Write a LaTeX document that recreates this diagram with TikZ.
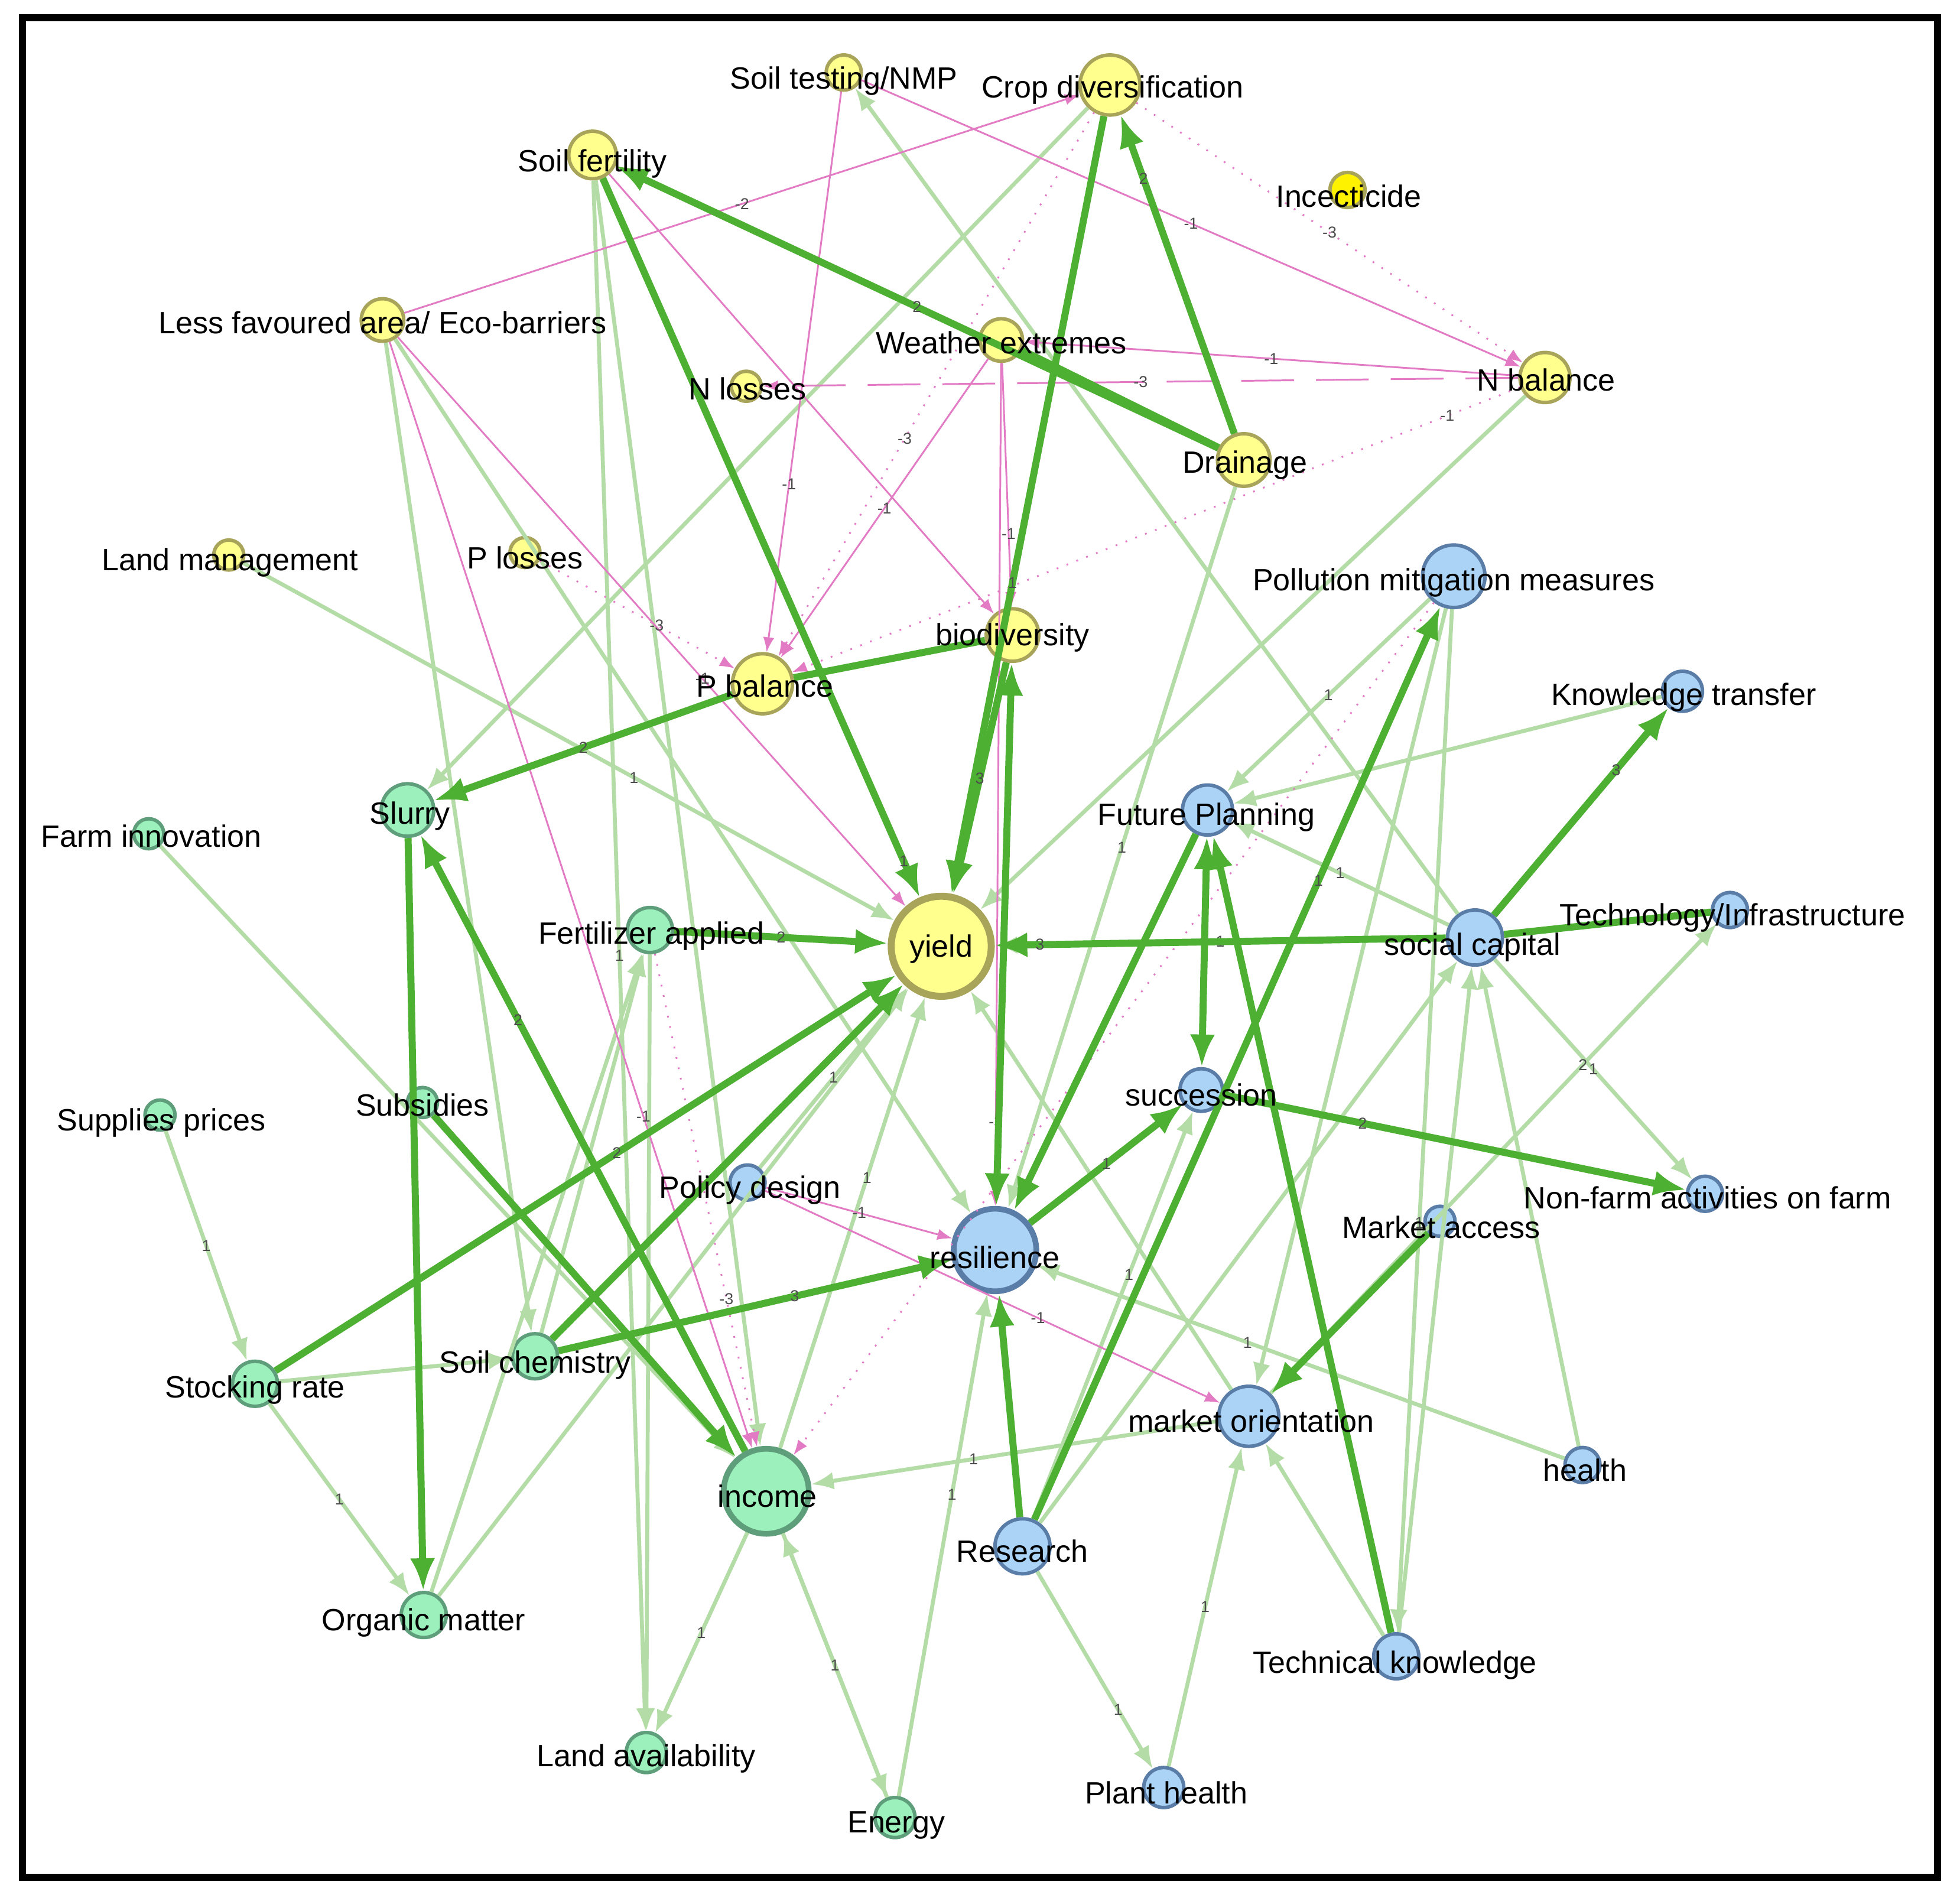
\documentclass[tikz,border=0pt]{standalone}
\usepackage{fontspec}
\setmainfont{Liberation Sans}
\usetikzlibrary{arrows.meta}
\definecolor{sg}{HTML}{4DB032}
\definecolor{lg}{HTML}{B4DCA6}
\definecolor{pk}{HTML}{E27BC4}
\definecolor{yf}{HTML}{FFFF8E}
\definecolor{yb}{HTML}{A8A45A}
\definecolor{gf}{HTML}{9CF0BC}
\definecolor{gb}{HTML}{5E9E7A}
\definecolor{bf}{HTML}{ABD3F6}
\definecolor{bb}{HTML}{5A7DA8}
\begin{document}
\begin{tikzpicture}[x=0.01cm,y=-0.01cm,
 yel/.style={circle,draw=yb,fill=yf,line width=0.8pt,inner sep=0pt},
 grn/.style={circle,draw=gb,fill=gf,line width=0.8pt,inner sep=0pt},
 blu/.style={circle,draw=bb,fill=bf,line width=0.8pt,inner sep=0pt},
 txt/.style={font=\fontsize{7}{8}\selectfont,inner sep=0pt},
 lab/.style={font=\fontsize{3.6}{4}\selectfont,text=black!70,inner sep=0.5pt,sloped=false},
 S/.style={draw=sg,line width=1.6pt,-{Latex[length=2.6mm,width=2mm]}},
 L/.style={draw=lg,line width=0.9pt,-{Latex[length=1.8mm,width=1.4mm]}},
 P/.style={draw=pk,line width=0.4pt,-{Latex[length=1.2mm,width=0.9mm]}},
 PD/.style={P,dotted},
 PL/.style={P,dash pattern=on 12pt off 5pt}]
\useasboundingbox (0,0) rectangle (1568,1518);
\draw[line width=1.6pt] (18,14) rectangle (1550,1502);
% nodes
\node[yel,minimum size=.28cm] (soiltest) at (675,58) {};
\node[yel,minimum size=.48cm] (cropdiv) at (888,68) {};
\node[yel,minimum size=.28cm,fill=yellow] (incect) at (1078,152) {};
\node[yel,minimum size=.38cm] (soilfert) at (474,124) {};
\node[yel,minimum size=.34cm] (lessfav) at (306,256) {};
\node[yel,minimum size=.34cm] (weather) at (801,272) {};
\node[yel,minimum size=.24cm] (nlosses) at (597,309) {};
\node[yel,minimum size=.40cm] (nbalance) at (1236,302) {};
\node[yel,minimum size=.42cm] (drainage) at (995,368) {};
\node[yel,minimum size=.24cm] (landmgmt) at (183,444) {};
\node[yel,minimum size=.24cm] (plosses) at (420,442) {};
\node[yel,minimum size=.48cm] (pbalance) at (610,547) {};
\node[yel,minimum size=.42cm] (biodiv) at (810,508) {};
\node[yel,minimum size=.80cm,line width=1.6pt] (yield) at (753,757) {};
\node[grn,minimum size=.42cm] (slurry) at (326,648) {};
\node[grn,minimum size=.24cm] (farminnov) at (119,667) {};
\node[grn,minimum size=.36cm] (fert) at (520,744) {};
\node[grn,minimum size=.24cm] (supplies) at (128,892) {};
\node[grn,minimum size=.24cm] (subsidies) at (338,882) {};
\node[grn,minimum size=.36cm] (soilchem) at (428,1085) {};
\node[grn,minimum size=.36cm] (stocking) at (204,1107) {};
\node[grn,minimum size=.68cm,line width=1.3pt] (income) at (613,1193) {};
\node[grn,minimum size=.36cm] (orgmatter) at (339,1292) {};
\node[grn,minimum size=.32cm] (landavail) at (517,1402) {};
\node[grn,minimum size=.32cm] (energy) at (716,1454) {};
\node[blu,minimum size=.50cm] (pollution) at (1163,461) {};
\node[blu,minimum size=.32cm] (knowledge) at (1346,553) {};
\node[blu,minimum size=.40cm] (futureplan) at (966,648) {};
\node[blu,minimum size=.28cm] (techinfra) at (1384,728) {};
\node[blu,minimum size=.44cm] (social) at (1180,750) {};
\node[blu,minimum size=.34cm] (succession) at (961,872) {};
\node[blu,minimum size=.28cm] (nonfarm) at (1364,955) {};
\node[blu,minimum size=.24cm] (marketacc) at (1152,977) {};
\node[blu,minimum size=.28cm] (policy) at (598,946) {};
\node[blu,minimum size=.66cm,line width=1.3pt] (resilience) at (796,1000) {};
\node[blu,minimum size=.48cm] (marketor) at (999,1133) {};
\node[blu,minimum size=.28cm] (health) at (1266,1172) {};
\node[blu,minimum size=.44cm] (research) at (818,1237) {};
\node[blu,minimum size=.36cm] (techknow) at (1117,1325) {};
\node[blu,minimum size=.32cm] (planthealth) at (931,1430) {};
% light green edges
\draw[L] (lessfav) -- (resilience);
\draw[L] (lessfav) -- (soilchem);
\draw[L] (soilfert) -- (income);
\draw[L] (soilfert) -- node[lab]{1} (landavail);
\draw[L] (cropdiv) -- (slurry);
\draw[L] (landmgmt) -- node[lab,pos=.6]{1} (yield);
\draw[L] (farminnov) -- (income);
\draw[L] (supplies) -- node[lab]{1} (stocking);
\draw[L] (stocking) -- node[lab]{1} (orgmatter);
\draw[L] (stocking) -- (soilchem);
\draw[L] (orgmatter) -- (fert);
\draw[L] (orgmatter) -- (yield);
\draw[L] (fert) -- (landavail);
\draw[L] (income) -- node[lab]{1} (landavail);
\draw[L] (income) -- (energy);
\draw[L] (energy) -- node[lab]{1} (income);
\draw[L] (income) -- node[lab,pos=.6]{1} (yield);
\draw[L] (energy) -- node[lab,pos=.6]{1} (resilience);
\draw[L] (marketor) -- node[lab,pos=.6]{1} (income);
\draw[L] (planthealth) -- node[lab]{1} (marketor);
\draw[L] (research) -- node[lab,pos=.7]{1} (planthealth);
\draw[L] (marketor) -- (yield);
\draw[L] (health) -- node[lab,pos=.6]{1} (resilience);
\draw[L] (pollution) -- node[lab]{1} (futureplan);
\draw[L] (pollution) -- node[lab,pos=.6]{1} (techknow);
\draw[L] (pollution) -- (marketor);
\draw[L] (social) -- node[lab]{1} (futureplan);
\draw[L] (social) -- (soiltest);
\draw[L] (social) -- node[lab]{1} (nonfarm);
\draw[L] (techknow) -- (social);
\draw[L] (health) -- (social);
\draw[L] (marketor) -- node[lab,pos=.7]{2} (techinfra);
\draw[L] (research) -- (social);
\draw[L] (nbalance) -- (yield);
\draw[L] (drainage) -- node[lab]{1} (resilience);
\draw[L] (knowledge) -- (futureplan);
\draw[L] (techknow) -- (marketor);
\draw[L] (research) -- node[lab,pos=.6]{1} (succession);
\draw[L] (policy) -- node[lab]{1} (yield);
\draw[L] (soilchem) -- (fert);
\draw[L] (social) -- node[lab]{1} (yield);
% pink edges
\draw[P] (lessfav) -- node[lab]{-2} (cropdiv);
\draw[P] (soiltest) -- node[lab]{-1} (nbalance);
\draw[P] (nbalance) -- node[lab]{-1} (weather);
\draw[PL] (nbalance) -- node[lab]{-3} (nlosses);
\draw[PD] (cropdiv) -- node[lab]{-3} (nbalance);
\draw[PD] (nbalance) -- node[lab,pos=.1]{-1} (pbalance);
\draw[P] (soiltest) -- node[lab,pos=.7]{-1} (pbalance);
\draw[P] (weather) -- node[lab]{-1} (pbalance);
\draw[P] (weather) -- node[lab,pos=.7]{-1} (biodiv);
\draw[PD] (cropdiv) -- node[lab,pos=.6]{-3} (pbalance);
\draw[P] (lessfav) -- node[lab,pos=.6]{-1} (yield);
\draw[P] (lessfav) -- node[lab,pos=.7]{-1} (income);
\draw[PD] (plosses) -- node[lab,pos=.6]{-3} (pbalance);
\draw[P] (weather) -- node[lab,pos=.9]{-3} (resilience);
\draw[P] (policy) -- node[lab]{-1} (resilience);
\draw[P] (policy) -- node[lab,pos=.6]{-1} (marketor);
\draw[PD] (fert) -- node[lab,pos=.7]{-3} (income);
\draw[PD] (pollution) -- (income);
\draw[P] (soilfert) -- (biodiv);
% strong green edges
\draw[S] (soilfert) -- node[lab,pos=.95]{1} (yield);
\draw[S] (drainage) -- node[lab]{2} (soilfert);
\draw[S] (drainage) -- node[lab,pos=.8]{2} (cropdiv);
\draw[S] (cropdiv) -- node[lab,pos=.6]{1} (yield);
\draw[S] (biodiv) -- node[lab]{3} (yield);
\draw[S,{Latex[length=2.6mm,width=2mm]}-{Latex[length=2.6mm,width=2mm]}] (biodiv) -- (resilience);
\draw[S,-] (weather) -- (drainage);
\draw[S] (pbalance) -- node[lab]{2} (slurry);
\draw[S,-] (biodiv) -- (pbalance);
\draw[S] (fert) -- node[lab]{2} (yield);
\draw[S] (social) -- node[lab,pos=.9]{3} (yield);
\draw[S] (social) -- node[lab,pos=.7]{3} (knowledge);
\draw[S,-] (social) -- (techinfra);
\draw[S,{Latex[length=2.6mm,width=2mm]}-{Latex[length=2.6mm,width=2mm]}] (futureplan) -- (succession);
\draw[S] (futureplan) -- (resilience);
\draw[S] (resilience) -- node[lab]{1} (succession);
\draw[S] (succession) -- node[lab,pos=.3]{2} (nonfarm);
\draw[S] (research) -- node[lab,pos=.7]{1} (pollution);
\draw[S] (research) -- (resilience);
\draw[S] (techknow) -- (futureplan);
\draw[S] (marketacc) -- (marketor);
\draw[S] (soilchem) -- (yield);
\draw[S] (soilchem) -- node[lab,pos=.6]{3} (resilience);
\draw[S] (stocking) -- node[lab,pos=.55]{2} (yield);
\draw[S] (subsidies) -- (income);
\draw[S] (slurry) -- (orgmatter);
\draw[S] (income) -- node[lab,pos=.7]{2} (slurry);
% labels
\node[txt] at (675,65) {Soil testing/NMP};
\node[txt] at (890,72) {Crop diversification};
\node[txt] at (1079,157) {Incecticide};
\node[txt] at (474,131) {Soil fertility};
\node[txt] at (306,258) {Less favoured area/ Eco-barriers};
\node[txt] at (801,274) {Weather extremes};
\node[txt] at (598,311) {N losses};
\node[txt] at (1237,304) {N balance};
\node[txt] at (996,372) {Drainage};
\node[txt] at (184,450) {Land management};
\node[txt] at (420,446) {P losses};
\node[txt] at (612,549) {P balance};
\node[txt] at (810,510) {biodiversity};
\node[txt] at (753,759) {yield};
\node[txt] at (328,653) {Slurry};
\node[txt] at (121,669) {Farm innovation};
\node[txt] at (521,749) {Fertilizer applied};
\node[txt] at (129,898) {Supplies prices};
\node[txt] at (338,884) {Subsidies};
\node[txt] at (428,1092) {Soil chemistry};
\node[txt] at (204,1112) {Stocking rate};
\node[txt] at (614,1197) {income};
\node[txt] at (339,1298) {Organic matter};
\node[txt] at (517,1407) {Land availability};
\node[txt] at (717,1460) {Energy};
\node[txt] at (1163,466) {Pollution mitigation measures};
\node[txt] at (1347,558) {Knowledge transfer};
\node[txt] at (965,654) {Future Planning};
\node[txt] at (1386,734) {Technology/Infrastructure};
\node[txt] at (1178,758) {social capital};
\node[txt] at (961,876) {succession};
\node[txt] at (1366,958) {Non-farm activities on farm};
\node[txt] at (1153,982) {Market access};
\node[txt] at (600,952) {Policy design};
\node[txt] at (796,1006) {resilience};
\node[txt] at (1001,1137) {market orientation};
\node[txt] at (1268,1176) {health};
\node[txt] at (818,1241) {Research};
\node[txt] at (1116,1332) {Technical knowledge};
\node[txt] at (933,1434) {Plant health};
\end{tikzpicture}
\end{document}
